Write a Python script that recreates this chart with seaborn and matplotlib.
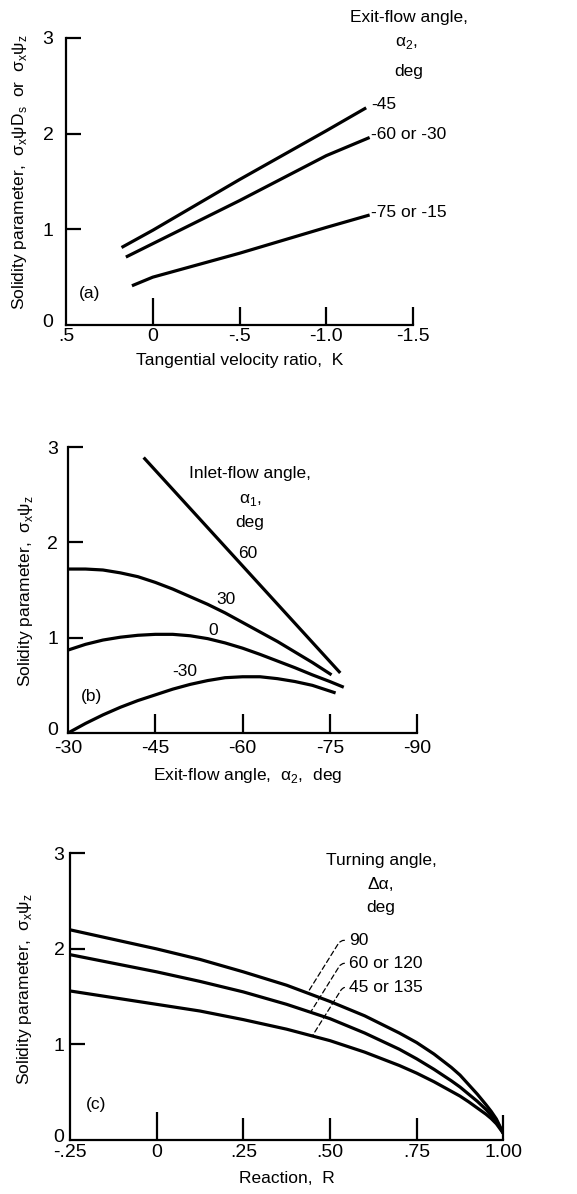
import numpy as np
import pandas as pd
import matplotlib
matplotlib.use("Agg")
import matplotlib.pyplot as plt
import matplotlib.transforms as mtransforms
from matplotlib import font_manager as fm
import seaborn as sns

# ---------------- data ----------------
# Panel (a): solidity parameter vs tangential velocity ratio K
K_a45 = [0.18, 0.0, -0.5, -1.0, -1.23]
S_a45 = [0.81, 0.99, 1.52, 2.03, 2.27]
K_a60 = [0.155, 0.0, -0.5, -1.0, -1.25]
S_a60 = [0.71, 0.85, 1.30, 1.77, 1.96]
K_a75 = [0.12, 0.0, -0.5, -1.0, -1.25]
S_a75 = [0.41, 0.50, 0.75, 1.02, 1.15]
labels_a = ["-45", "-60 or -30", "-75 or -15"]

# Panel (b): solidity parameter vs exit-flow angle, by inlet-flow angle
A_b60 = [-43.0, -76.8]
S_b60 = [2.89, 0.63]
A_b30 = [-30, -33, -36, -39, -42, -45, -48, -51, -54, -57, -60, -63, -66, -69, -72, -75.3]
S_b30 = [1.72, 1.72, 1.71, 1.68, 1.64, 1.58, 1.51, 1.43, 1.35, 1.26, 1.16, 1.06, 0.96, 0.85, 0.74, 0.61]
A_b0 = [-30, -33, -36, -39, -42, -45, -48, -51, -54, -57, -60, -63, -66, -69, -72, -75, -77.4]
S_b0 = [0.87, 0.93, 0.975, 1.005, 1.025, 1.035, 1.035, 1.02, 0.99, 0.945, 0.89, 0.825, 0.755, 0.685, 0.61, 0.54, 0.48]
A_bm30 = [-30, -33, -36, -39, -42, -45, -48, -51, -54, -57, -60, -63, -66, -69, -72, -76]
S_bm30 = [0.0, 0.10, 0.19, 0.27, 0.34, 0.40, 0.46, 0.51, 0.55, 0.58, 0.59, 0.59, 0.57, 0.54, 0.50, 0.42]
labels_b = ["60", "30", "0", "-30"]

# Panel (c): solidity parameter vs reaction R, by turning angle
R_c = [-0.25, -0.125, 0.0, 0.125, 0.25, 0.375, 0.5, 0.6, 0.7, 0.75, 0.8, 0.85,
       0.875, 0.9, 0.925, 0.95, 0.965, 0.98, 1.0]
S_c90 = [2.20, 2.10, 2.00, 1.89, 1.76, 1.62, 1.45, 1.30, 1.12, 1.02, 0.90, 0.76,
         0.68, 0.58, 0.48, 0.37, 0.30, 0.22, 0.07]
S_c60 = [1.94, 1.85, 1.76, 1.66, 1.55, 1.42, 1.27, 1.12, 0.95, 0.85, 0.74, 0.62,
         0.555, 0.48, 0.405, 0.32, 0.26, 0.20, 0.07]
S_c45 = [1.56, 1.49, 1.42, 1.35, 1.26, 1.16, 1.04, 0.92, 0.78, 0.70, 0.61, 0.51,
         0.46, 0.40, 0.335, 0.27, 0.225, 0.17, 0.07]
labels_c = ["90", "60 or 120", "45 or 135"]

xt_a = [0.5, 0.0, -0.5, -1.0, -1.5]
xtl_a = [".5", "0", "-.5", "-1.0", "-1.5"]
xt_b = [-30, -45, -60, -75, -90]
xtl_b = ["-30", "-45", "-60", "-75", "-90"]
xt_c = [-0.25, 0.0, 0.25, 0.5, 0.75, 1.0]
xtl_c = ["-.25", "0", ".25", ".50", ".75", "1.00"]
yt = [0, 1, 2, 3]
ytl = ["0", "1", "2", "3"]

# ---------------- style ----------------
sns.set_style("white")
names = {f.name for f in fm.fontManager.ttflist}
MAIN = "Liberation Sans Narrow" if "Liberation Sans Narrow" in names else "Liberation Sans"
FAM = [MAIN, "DejaVu Sans"]
plt.rcParams["font.family"] = FAM
plt.rcParams["mathtext.fontset"] = "custom"
plt.rcParams["mathtext.rm"] = MAIN
plt.rcParams["axes.unicode_minus"] = False
for k in ["text.color", "axes.labelcolor", "xtick.color", "ytick.color", "axes.edgecolor"]:
    plt.rcParams[k] = "black"

LW = 2.3
FS_T = 14
FS_L = 12.5

fig = plt.figure(figsize=(5.77, 11.94), dpi=100)
fig.patch.set_facecolor("white")

ax_a = fig.add_axes([0.1144, 0.7278, 0.6014, 0.2404])
ax_b = fig.add_axes([0.1179, 0.3861, 0.6049, 0.2395])
ax_c = fig.add_axes([0.1213, 0.0452, 0.7510, 0.2401])


def style(ax, xlim, xticks, xticklabels, xlens, xpad, ypad):
    ax.set_facecolor("white")
    ax.set_xlim(*xlim)
    ax.set_ylim(0, 3)
    for s in ["top", "right"]:
        ax.spines[s].set_visible(False)
    for s in ["left", "bottom"]:
        ax.spines[s].set_linewidth(1.6)
        ax.spines[s].set_color("black")
    ax.grid(False)
    ax.set_xticks(xticks)
    ax.set_xticklabels(xticklabels)
    ax.set_yticks(yt)
    ax.set_yticklabels(ytl)
    ax.tick_params(axis="both", direction="in", width=1.6, colors="black",
                   labelsize=FS_T, left=True, bottom=True)
    ax.tick_params(axis="x", pad=xpad)
    ax.tick_params(axis="y", pad=ypad, length=11)
    ax.set_xlabel("")
    ax.set_ylabel("")
    for t, L in zip(ax.xaxis.get_major_ticks(), xlens):
        t.tick1line.set_markersize(L)
    ax.yaxis.get_major_ticks()[0].tick1line.set_markersize(0)
    # lift the "0" on the y axis slightly, as in the original
    lab0 = ax.get_yticklabels()[0]
    lab0.set_transform(lab0.get_transform() +
                       mtransforms.ScaledTranslation(0, 3 / 72, fig.dpi_scale_trans))


def curve(ax, x, y):
    df = pd.DataFrame({"x": x, "y": y})
    sns.lineplot(data=df, x="x", y="y", sort=False, estimator=None,
                 color="black", linewidth=LW, ax=ax,
                 solid_joinstyle="round", solid_capstyle="butt")


# ---------------- panel (a) ----------------
for K, S in [(K_a45, S_a45), (K_a60, S_a60), (K_a75, S_a75)]:
    curve(ax_a, K, S)
style(ax_a, (0.5, -1.5), xt_a, xtl_a, [0, 19.4, 13, 13, 13], 2, 9)
for lab, S in zip(labels_a, [S_a45[-1], S_a60[-1], S_a75[-1]]):
    ax_a.text(-1.259, S + 0.03, lab, ha="left", va="center", fontsize=FS_L)
ax_a.text(-1.477, 3.21, "Exit-flow angle,", ha="center", va="center", fontsize=FS_L)
ax_a.text(-1.46, 2.95, "α$_\\mathregular{2}$,", ha="center", va="center", fontsize=FS_L)
ax_a.text(-1.477, 2.65, "deg", ha="center", va="center", fontsize=FS_L)
ax_a.text(0.362, 0.33, "(a)", ha="center", va="center", fontsize=FS_L)
ax_a.text(0.499, -0.122, "Tangential velocity ratio,  K", transform=ax_a.transAxes,
          ha="center", va="center", fontsize=FS_L)
ax_a.text(-0.133, 0.533,
          "Solidity parameter,  σ$_\\mathregular{x}$ψD$_\\mathregular{s}$  or  σ$_\\mathregular{x}$ψ$_\\mathregular{z}$",
          transform=ax_a.transAxes, rotation=90, ha="center", va="center", fontsize=FS_L)

# ---------------- panel (b) ----------------
for A, S in [(A_b60, S_b60), (A_b30, S_b30), (A_b0, S_b0), (A_bm30, S_bm30)]:
    curve(ax_b, A, S)
style(ax_b, (-30, -90), xt_b, xtl_b, [0, 13.5, 13.5, 14, 14], 5, 7)
ax_b.text(-61.3, 2.72, "Inlet-flow angle,", ha="center", va="center", fontsize=FS_L)
ax_b.text(-61.3, 2.44, "α$_\\mathregular{1}$,", ha="center", va="center", fontsize=FS_L)
ax_b.text(-61.3, 2.21, "deg", ha="center", va="center", fontsize=FS_L)
for lab, (xa, ya) in zip(labels_b, [(-60.9, 1.88), (-57.2, 1.40), (-54.9, 1.08), (-50.1, 0.64)]):
    ax_b.text(xa, ya, lab, ha="center", va="center", fontsize=FS_L)
ax_b.text(-34.0, 0.38, "(b)", ha="center", va="center", fontsize=FS_L)
ax_b.text(0.516, -0.147, "Exit-flow angle,  α$_\\mathregular{2}$,  deg", transform=ax_b.transAxes,
          ha="center", va="center", fontsize=FS_L)
ax_b.text(-0.123, 0.497, "Solidity parameter,  σ$_\\mathregular{x}$ψ$_\\mathregular{z}$",
          transform=ax_b.transAxes, rotation=90, ha="center", va="center", fontsize=FS_L)

# ---------------- panel (c) ----------------
for S in [S_c90, S_c60, S_c45]:
    curve(ax_c, R_c, S)
style(ax_c, (-0.25, 1.0), xt_c, xtl_c, [0, 20, 16, 16, 16, 18], 3, 4)
ax_c.text(0.649, 2.93, "Turning angle,", ha="center", va="center", fontsize=FS_L)
ax_c.text(0.646, 2.67, "Δα,", ha="center", va="center", fontsize=FS_L)
ax_c.text(0.646, 2.43, "deg", ha="center", va="center", fontsize=FS_L)
for lab, S, x0, ytxt in zip(labels_c, [S_c90, S_c60, S_c45], [0.435, 0.444, 0.449], [2.09, 1.85, 1.60]):
    y0 = float(np.interp(x0, R_c, S))
    ax_c.annotate(lab, xy=(x0, y0), xytext=(0.555, ytxt), ha="left", va="center",
                  fontsize=FS_L,
                  arrowprops=dict(arrowstyle="-", linestyle=(0, (4, 2.5)), linewidth=0.9,
                                  color="black", shrinkA=1, shrinkB=0, relpos=(0, 0.5),
                                  connectionstyle="angle,angleA=180,angleB=58,rad=4"))
ax_c.text(-0.176, 0.37, "(c)", ha="center", va="center", fontsize=FS_L)
ax_c.text(0.501, -0.133, "Reaction,  R", transform=ax_c.transAxes,
          ha="center", va="center", fontsize=FS_L)
ax_c.text(-0.104, 0.527, "Solidity parameter,  σ$_\\mathregular{x}$ψ$_\\mathregular{z}$",
          transform=ax_c.transAxes, rotation=90, ha="center", va="center", fontsize=FS_L)

fig.savefig("out.png", dpi=100, facecolor="white")
